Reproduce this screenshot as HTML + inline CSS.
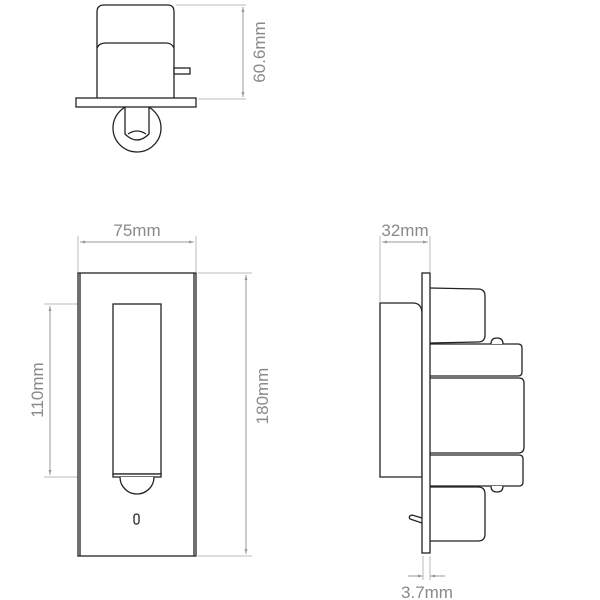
<!DOCTYPE html>
<html><head><meta charset="utf-8"><style>
html,body{margin:0;padding:0;background:#fff;}
svg{display:block}
text{font-family:"Liberation Sans",sans-serif;fill:#8a8a8a;font-size:17px}
</style></head><body>
<svg width="600" height="600" viewBox="0 0 600 600" xmlns="http://www.w3.org/2000/svg">
<defs>
<marker id="a" viewBox="0 0 10 10" refX="10" refY="5" markerWidth="7" markerHeight="5" orient="auto-start-reverse"><path d="M0,2 L10,5 L0,8z" fill="#999"/></marker>
</defs>
<g stroke="#bbb" stroke-width="1" fill="none">
<line x1="176" y1="5" x2="246" y2="5"/><line x1="198" y1="99" x2="246" y2="99"/>
<line x1="243" y1="7" x2="243" y2="97" marker-start="url(#a)" marker-end="url(#a)" stroke="#999"/>
<line x1="78" y1="236" x2="78" y2="272"/><line x1="196" y1="236" x2="196" y2="272"/>
<line x1="80" y1="242" x2="194" y2="242" marker-start="url(#a)" marker-end="url(#a)" stroke="#999"/>
<line x1="198" y1="273" x2="252" y2="273"/><line x1="198" y1="556" x2="252" y2="556"/>
<line x1="246" y1="275" x2="246" y2="554" marker-start="url(#a)" marker-end="url(#a)" stroke="#999"/>
<line x1="44" y1="304" x2="112" y2="304"/><line x1="44" y1="477" x2="112" y2="477"/>
<line x1="50" y1="306" x2="50" y2="475" marker-start="url(#a)" marker-end="url(#a)" stroke="#999"/>
<line x1="380" y1="236" x2="380" y2="302"/><line x1="430" y1="236" x2="430" y2="272"/>
<line x1="382" y1="242" x2="428" y2="242" marker-start="url(#a)" marker-end="url(#a)" stroke="#999"/>
<line x1="423" y1="556" x2="423" y2="580"/><line x1="430" y1="556" x2="430" y2="580"/>
<line x1="408" y1="576" x2="423" y2="576" marker-end="url(#a)" stroke="#999"/>
<line x1="445" y1="576" x2="430" y2="576" marker-end="url(#a)" stroke="#999"/>
</g>
<text x="265" y="52" transform="rotate(-90 265 52)" text-anchor="middle" font-size="19">60.6mm</text>
<text x="137" y="236" text-anchor="middle">75mm</text>
<text x="268" y="396" transform="rotate(-90 268 396)" text-anchor="middle">180mm</text>
<text x="43" y="390" transform="rotate(-90 43 390)" text-anchor="middle">110mm</text>
<text x="405" y="236" text-anchor="middle">32mm</text>
<text x="427" y="598" text-anchor="middle">3.7mm</text>

<g stroke="#222" stroke-width="1.3" fill="#fff">
<path d="M97,100 L97,12 Q97,5 104,5 L168,5 Q174,5 174,12 L174,100"/>
<path d="M97,48 Q99,43 106,43 L166,43 Q172,43 174,48"/>
<rect x="174" y="68" width="16" height="6"/>
<circle cx="137" cy="128" r="24"/>
<path d="M125,107 L125,134 Q137,146 149,134 L149,107"/>
<path d="M128,134 Q137,128 146,134"/>
<rect x="76" y="98" width="120" height="9"/>
<rect x="78" y="273" width="118" height="283"/>
<line x1="80" y1="273" x2="80" y2="556"/><line x1="194" y1="273" x2="194" y2="556"/>
<rect x="113" y="304" width="48" height="170"/>
<rect x="113" y="474" width="48" height="3"/>
<path d="M120,477 A17,17 0 0 0 154,477"/>
<rect x="134" y="514" width="5" height="10" rx="2.5"/>
<path d="M380,303 L413,303 Q421,303 422,312 L422,477 L380,477 Z"/>
<path d="M430,288 L478,289 Q485,289 485,296 L485,335 Q485,342 478,342 L430,343"/>
<path d="M430,344 L518,344 Q522,344 522,348 L522,372 Q522,376 518,376 L430,376"/>
<path d="M430,378 L519,378 Q524,378 524,383 L524,447 Q524,453 518,453 L430,453"/>
<path d="M430,455 L519,455 Q523,455 523,459 L523,482 Q523,486 519,486 L430,486"/>
<path d="M430,487 L478,487 Q485,487 485,494 L485,534 Q485,541 478,541 L430,541"/>
<path d="M491,344 Q491,338 497,338 Q503,338 503,344"/>
<path d="M491,486 Q491,492 497,492 Q503,492 503,486"/>
<path d="M422,518 L412,515 Q408,516 410,519 L422,523"/>
<rect x="422" y="273" width="8" height="280"/>
</g>
</svg>
</body></html>
